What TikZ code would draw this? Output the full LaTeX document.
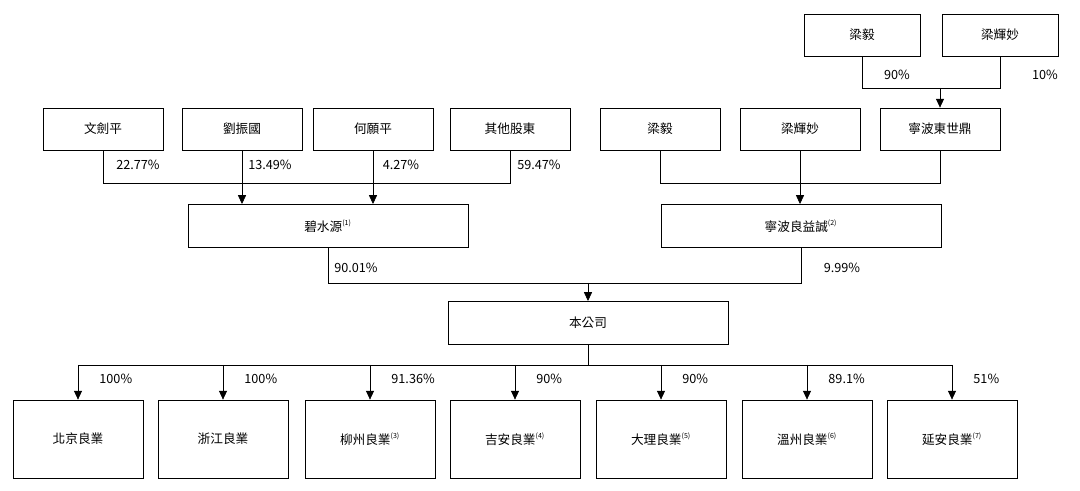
\documentclass[tikz,border=0pt]{standalone}
\usepackage{fontspec}
\setmainfont{Noto Sans CJK TC}
\usetikzlibrary{arrows.meta,positioning,calc}

\begin{document}
\begin{tikzpicture}[x=0.025cm,y=-0.025cm,font=\fontsize{9}{11}\selectfont]
  %----- styles
  \tikzset{
    ent/.style  ={draw,line width=0.5pt,minimum width=3cm,minimum height=1.05cm,inner sep=1pt},
    wide/.style ={draw,line width=0.5pt,minimum width=7cm,minimum height=1.08cm,inner sep=1pt},
    sub/.style  ={draw,line width=0.5pt,minimum width=3.25cm,minimum height=1.95cm,inner sep=1pt},
    arrow/.style={-{Triangle[length=2.2mm,width=2mm]},line width=0.5pt},
    link/.style ={line width=0.5pt},
    pct/.style  ={inner sep=1pt}
  }
  \newcommand{\fn}[1]{\textsuperscript{\tiny(#1)}}
  \useasboundingbox (0,0) rectangle (1080,491);

  %----- nodes
  % top: owners of 寧波東世鼎
  \node[ent,minimum width=2.9cm] (liangyiT) at (862,35) {梁毅};
  \node[ent,minimum width=2.9cm] (liangmiaoT) at (1000,35) {梁輝妙};

  % second row
  \node[ent] (wen)   at (103,129) {文劍平};
  \node[ent] (liu)   at (242,129) {劉振國};
  \node[ent] (he)    at (373,129) {何願平};
  \node[ent] (qita)  at (510,129) {其他股東};
  \node[ent] (liangyi)   at (660,129) {梁毅};
  \node[ent] (liangmiao) at (800,129) {梁輝妙};
  \node[ent] (dongshi)   at (940,129) {寧波東世鼎};

  % holding entities
  \node[wide] (bishui)  at (328,226) {碧水源\fn{1}};
  \node[wide] (liangyc) at (801,226) {寧波良益誠\fn{2}};

  % company
  \node[wide] (company) at (588,323) {本公司};

  % subsidiaries
  \node[sub] (s1) at (78,439)  {北京良業};
  \node[sub] (s2) at (223,439) {浙江良業};
  \node[sub] (s3) at (370,439) {柳州良業\fn{3}};
  \node[sub] (s4) at (515,439) {吉安良業\fn{4}};
  \node[sub] (s5) at (661,439) {大理良業\fn{5}};
  \node[sub] (s6) at (807,439) {溫州良業\fn{6}};
  \node[sub] (s7) at (952,439) {延安良業\fn{7}};

  %----- connections
  % 梁毅, 梁輝妙 -> 寧波東世鼎
  \coordinate (busT) at (0,88);
  \draw[link] (liangyiT.south) |- (liangmiaoT.south |- busT) -- (liangmiaoT.south);
  \draw[arrow] (dongshi |- busT) -- (dongshi.north);
  \node[pct] at (897,75) {90\%};
  \node[pct] at (1045,75) {10\%};

  % owners -> 碧水源
  \coordinate (busL) at (0,183);
  \draw[link] (wen.south) |- (qita.south |- busL) -- (qita.south);
  \draw[link] (liu.south) -- (liu |- busL);
  \draw[arrow] (liu |- busL) -- (liu |- bishui.north);
  \draw[arrow] (he.south) -- (he |- bishui.north);
  \node[pct] at (138,165) {22.77\%};
  \node[pct] at (270,165) {13.49\%};
  \node[pct] at (401,165) {4.27\%};
  \node[pct] at (539,165) {59.47\%};

  % owners -> 寧波良益誠
  \draw[link] (liangyi.south) |- (dongshi.south |- busL) -- (dongshi.south);
  \draw[arrow] (liangmiao.south) -- (liangmiao |- liangyc.north);

  % holders -> 本公司
  \coordinate (busM) at (0,283);
  \draw[link] (bishui.south) |- (liangyc.south |- busM) -- (liangyc.south);
  \draw[arrow] (company |- busM) -- (company.north);
  \node[pct] at (356,268) {90.01\%};
  \node[pct] at (842,268) {9.99\%};

  % 本公司 -> subsidiaries
  \coordinate (busB) at (0,365);
  \draw[link] (company.south) -- (company |- busB);
  \draw[link] (s1 |- busB) -- (s7 |- busB);
  \foreach \s/\p in {s1/100\%,s2/100\%,s3/91.36\%,s4/90\%,s5/90\%,s6/89.1\%,s7/51\%}
    \draw[arrow] (\s |- busB) -- node[pct,pos=0.4,right=14pt] {\p} (\s.north);

\end{tikzpicture}
\end{document}
